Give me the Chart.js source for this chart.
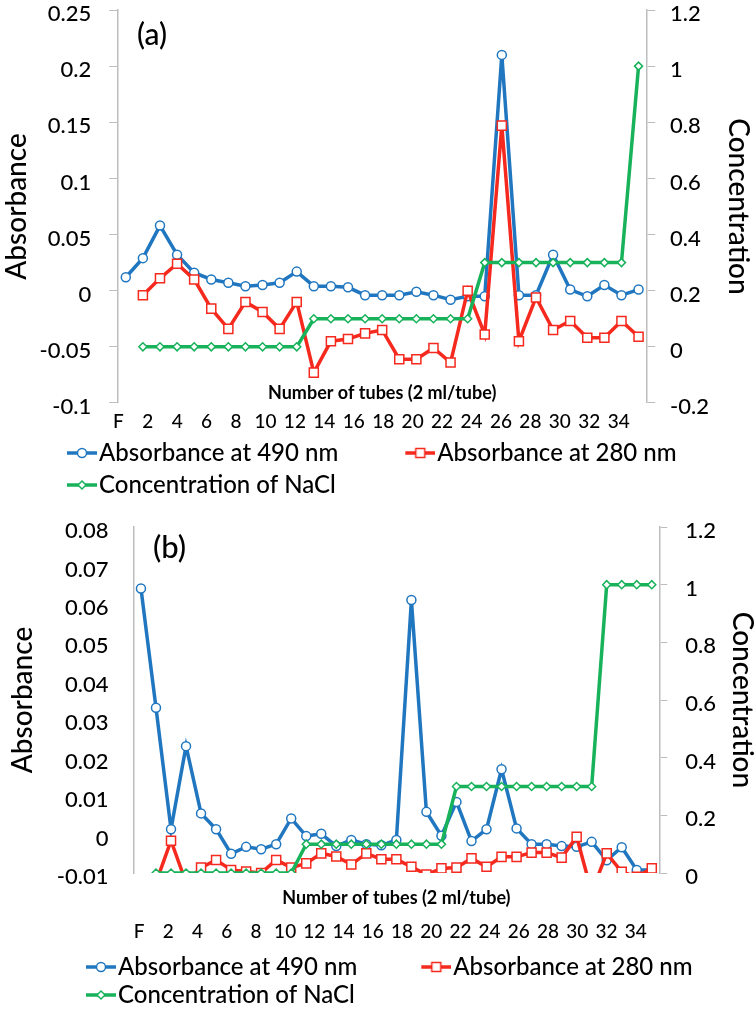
<!DOCTYPE html>
<html>
<head>
<meta charset="utf-8">
<script src="https://cdn.jsdelivr.net/npm/chart.js@4.4.1/dist/chart.umd.min.js"></script>
<style>
  html, body { margin: 0; padding: 0; background: #fff; overflow: hidden; }
  .panel { position: absolute; left: 0; width: 756px; }
  #panelA { top: 0; height: 507px; }
  #panelB { top: 507px; height: 510px; }
  .tag { position: absolute; font-family: Lato, sans-serif; font-weight: 500; color: #000; line-height: 1; }
</style>
</head>
<body>
<div class="panel" id="panelA"><canvas id="chartA"></canvas></div>
<div class="panel" id="panelB"><canvas id="chartB"></canvas></div>
<div class="tag" style="left:137px; top:18px; font-size:30px;">(a)</div>
<div class="tag" style="left:153px; top:531px; font-size:31px;">(b)</div>
<script>
// tick labels printed under both panels
const tickLabels = ['F', '2', '4', '6', '8', '10', '12', '14', '16', '18', '20', '22', '24', '26', '28', '30', '32', '34'];

// panel (a)
const tubesA = ['F', '1', '2', '3', '4', '5', '6', '7', '8', '9', '10', '11', '12', '13', '14', '15',
    '16', '17', '18', '19', '20', '21', '22', '23', '24', '25', '26', '27', '28', '29', '30'];
const abs490A = [0.012, 0.029, 0.058, 0.032, 0.016, 0.010, 0.007, 0.004, 0.005, 0.007, 0.017, 0.004, 0.004, 0.003, -0.004, -0.004,
    -0.004, -0.001, -0.004, -0.008, -0.005, -0.005, 0.210, -0.004, -0.004, 0.032, 0.001, -0.005, 0.005, -0.004, 0.001];
const abs280A = [null, -0.004, 0.011, 0.024, 0.010, -0.016, -0.034, -0.010, -0.019, -0.034, -0.010, -0.073, -0.045, -0.043, -0.038, -0.035,
    -0.061, -0.061, -0.051, -0.064, 0.000, -0.039, 0.147, -0.045, -0.006, -0.035, -0.027, -0.042, -0.042, -0.027, -0.041];
const naclA = [null, 0, 0, 0, 0, 0, 0, 0, 0, 0, 0, 0.1, 0.1, 0.1, 0.1, 0.1,
    0.1, 0.1, 0.1, 0.1, 0.1, 0.3, 0.3, 0.3, 0.3, 0.3, 0.3, 0.3, 0.3, 0.3, 1.0];

// panel (b)
const tubesB = ['F', '1', '2', '3', '4', '5', '6', '7', '8', '9', '10', '11', '12', '13', '14', '15', '16', '17',
    '18', '19', '20', '21', '22', '23', '24', '25', '26', '27', '28', '29', '30', '31', '32', '33', '34'];
const abs490B = [0.064, 0.033, 0.0014, 0.023, 0.0055, 0.0014, -0.005, -0.0032, -0.0038, -0.0025, 0.0042, -0.0004, 0.0002, -0.003, -0.0014, -0.0025, -0.0028, -0.0014,
    0.061, 0.0059, -0.0003, 0.0085, -0.0017, 0.0014, 0.017, 0.0016, -0.0025, -0.0025, -0.003, -0.0032, -0.0019, -0.0067, -0.0033, -0.0092, -0.0092];
const abs280B = [null, -0.0125, -0.0016, -0.0125, -0.0086, -0.0066, -0.0092, -0.0096, -0.0100, -0.0066, -0.0086, -0.0075, -0.0049, -0.0057, -0.0078, -0.0049, -0.0064, -0.0064,
    -0.0084, -0.0104, -0.0088, -0.0086, -0.0062, -0.0084, -0.0058, -0.0058, -0.0047, -0.0047, -0.0060, -0.0006, -0.0150, -0.0049, -0.0097, -0.0110, -0.0088];
const naclB = [null, 0, 0, 0, 0, 0, 0, 0, 0, 0, 0, 0.1, 0.1, 0.1, 0.1, 0.1, 0.1, 0.1,
    0.1, 0.1, 0.1, 0.3, 0.3, 0.3, 0.3, 0.3, 0.3, 0.3, 0.3, 0.3, 0.3, 1, 1, 1, 1];

const FONT = 'Lato, "Open Sans", sans-serif';
const WEIGHT = 500;
const INK = '#000';
const AXIS = '#bdbdbd';
const BLUE = '#2077c0';
const RED = '#f5291d';
const GREEN = '#17b25a';
const LEGEND_SIZE = 24;

// line + marker sample, drawn in the right-most 30px of the canvas
function legendIcon(color, style, width) {
    const c = document.createElement('canvas');
    c.width = width;
    c.height = 14;
    const g = c.getContext('2d');
    const cx = width - 15, cy = 7;
    g.strokeStyle = color;
    g.lineWidth = 3.5;
    g.beginPath();
    g.moveTo(width - 30, cy);
    g.lineTo(width, cy);
    g.stroke();
    g.fillStyle = '#fff';
    g.lineWidth = 1.5;
    g.beginPath();
    if (style === 'circle') g.arc(cx, cy, 4.5, 0, Math.PI * 2);
    else if (style === 'rect') g.rect(cx - 4.5, cy - 4.5, 9, 9);
    else { g.moveTo(cx - 4, cy); g.lineTo(cx, cy - 4); g.lineTo(cx + 4, cy); g.lineTo(cx, cy + 4); g.closePath(); }
    g.fill();
    g.stroke();
    return c;
}

function series(label, data, color, style, radius, yAxisID, order) {
    return {
        label, data, yAxisID, order,
        xAxisID: 'x',
        borderColor: color,
        backgroundColor: '#fff',
        borderWidth: 3.5,
        pointStyle: style,
        pointRadius: radius,
        pointBorderWidth: 1.5,
        pointBorderColor: color,
        pointBackgroundColor: '#fff',
        tension: 0
    };
}

// keep the plot top close to the first tick label
function trimPadding(scale) {
    scale.paddingTop = 10;
    scale.paddingBottom = 10;
}

function buildChart(id, L) {
    const iconW = L.boxW + LEGEND_SIZE - 4;
    const icons = [legendIcon(BLUE, 'circle', iconW), legendIcon(RED, 'rect', iconW), legendIcon(GREEN, 'diamond', iconW)];
    const tickFont = { family: FONT, size: 22, weight: WEIGHT, lineHeight: 1 };
    const titleFont = { family: FONT, size: 28, weight: WEIGHT, lineHeight: 1.2 };

    return new Chart(document.getElementById(id), {
        type: 'line',
        data: {
            labels: L.tubes,
            datasets: [
                series('Absorbance at 490 nm', L.blue, BLUE, 'circle', 4.5, 'y', 2),
                series('Absorbance at 280 nm', L.red, RED, 'rect', 6.4, 'y', 1),
                series('Concentration of NaCl', L.green, GREEN, 'rectRot', 4, 'y1', 0)
            ]
        },
        options: {
            responsive: true,
            maintainAspectRatio: false,
            animation: false,
            layout: { padding: { left: L.padLeft, top: L.padTop, right: 0, bottom: 0 } },
            plugins: {
                tooltip: { enabled: false },
                legend: {
                    position: 'bottom',
                    align: 'start',
                    labels: {
                        font: { family: FONT, size: LEGEND_SIZE, weight: WEIGHT },
                        color: INK,
                        usePointStyle: true,
                        pointStyleWidth: L.boxW,
                        padding: L.legendPad,
                        generateLabels: chart => chart.data.datasets.map((ds, i) => ({
                            text: ds.label,
                            pointStyle: icons[i],
                            datasetIndex: i,
                            hidden: false,
                            fillStyle: 'transparent',
                            strokeStyle: 'transparent',
                            lineWidth: 0,
                            fontColor: INK
                        }))
                    }
                }
            },
            scales: {
                x: {
                    type: 'category',
                    position: 'bottom',
                    offset: true,
                    weight: 0,
                    grid: { display: false, drawTicks: false },
                    border: { display: false },
                    ticks: { display: false },
                    title: {
                        display: true,
                        text: 'Number of tubes (2 ml/tube)',
                        color: INK,
                        font: { family: FONT, size: 18, weight: 'bold', lineHeight: 1.2 },
                        padding: L.xTitlePad
                    }
                },
                x2: {
                    type: 'category',
                    position: 'bottom',
                    labels: tickLabels,
                    offset: true,
                    weight: 1,
                    grid: { display: false, drawTicks: false },
                    border: { display: false },
                    ticks: {
                        autoSkip: false,
                        maxRotation: 0,
                        padding: 0,
                        labelOffset: L.x2Shift,
                        color: INK,
                        font: { family: FONT, size: 19, weight: WEIGHT, lineHeight: L.x2Line }
                    }
                },
                y: {
                    type: 'linear',
                    position: 'left',
                    min: L.yMin,
                    max: L.yMax,
                    afterFit: trimPadding,
                    ticks: {
                        stepSize: L.yStep,
                        padding: L.yPad,
                        labelOffset: 4,
                        color: INK,
                        font: tickFont,
                        callback: v => String(Math.round(v * 100) / 100)
                    },
                    grid: { drawOnChartArea: false, drawTicks: L.leftTicks, tickLength: 8, color: AXIS },
                    border: { display: true, color: AXIS, width: 1.5 },
                    title: { display: true, text: 'Absorbance', color: INK, font: titleFont, padding: L.yTitlePad }
                },
                y1: {
                    type: 'linear',
                    position: 'right',
                    min: L.cMin,
                    max: 1.2,
                    afterFit: trimPadding,
                    ticks: {
                        stepSize: 0.2,
                        padding: L.y1Pad,
                        labelOffset: 4,
                        color: INK,
                        font: tickFont,
                        callback: v => String(Math.round(v * 10) / 10)
                    },
                    grid: { drawOnChartArea: false, drawTicks: true, tickLength: 8, color: AXIS },
                    border: { display: true, color: AXIS, width: 1.5 },
                    title: { display: true, text: 'Concentration', color: INK, font: titleFont, padding: L.y1TitlePad }
                }
            }
        }
    });
}

buildChart('chartA', {
    tubes: tubesA, blue: abs490A, red: abs280A, green: naclA,
    yMin: -0.1, yMax: 0.25, yStep: 0.05, cMin: -0.2,
    padLeft: 0, padTop: 0,
    boxW: 79, legendPad: 8,
    xTitlePad: { top: -20.8, bottom: 7.2 },
    x2Line: 1.16, x2Shift: -13.7,
    yPad: 18, leftTicks: true, yTitlePad: { top: 0, bottom: -12 },
    y1Pad: 15, y1TitlePad: { top: 1.2, bottom: -2.8 }
});

buildChart('chartB', {
    tubes: tubesB, blue: abs490B, red: abs280B, green: naclB,
    yMin: -0.01, yMax: 0.08, yStep: 0.01, cMin: 0,
    padLeft: 22, padTop: 20,
    boxW: 80, legendPad: 4,
    xTitlePad: { top: 14.2, bottom: 4.2 },
    x2Line: 2.0, x2Shift: -9,
    yPad: 25, leftTicks: false, yTitlePad: { top: -15.8, bottom: -8 },
    y1Pad: 18, y1TitlePad: { top: -2.8, bottom: -8.8 }
});
</script>
</body>
</html>
